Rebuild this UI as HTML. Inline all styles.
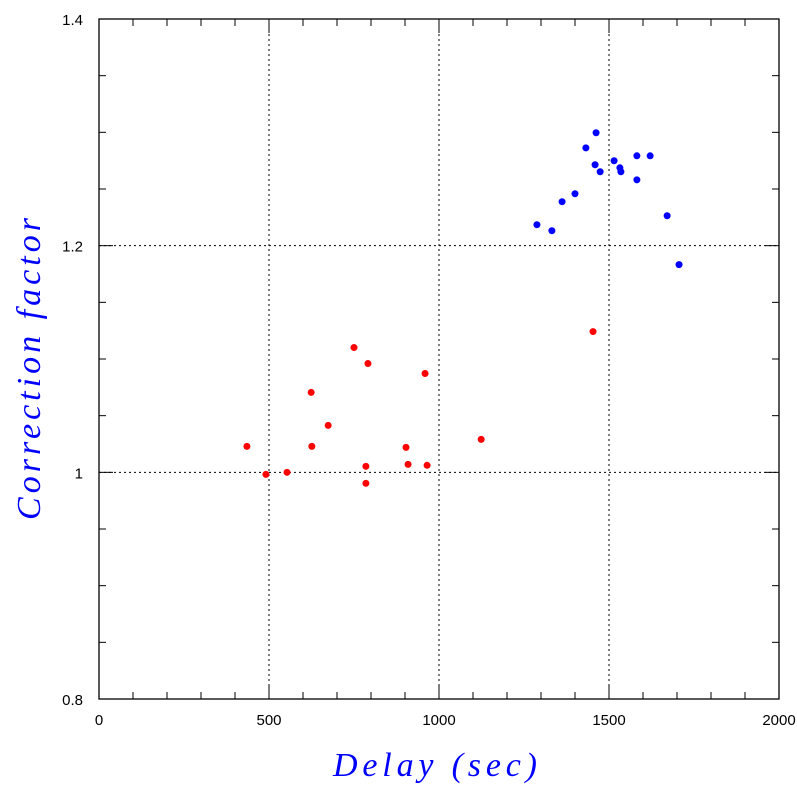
<!DOCTYPE html>
<html><head><meta charset="utf-8"><style>body{margin:0;background:#fff}svg{display:block}</style></head>
<body>
<svg id="chart" width="797" height="797" xmlns="http://www.w3.org/2000/svg"></svg>
<script>
const blueX=[1288,1332,1362,1400,1432,1459,1462,1474,1515,1532,1535,1582,1582,1621,1671,1706];
const blueY=[1.2185,1.2132,1.2388,1.2458,1.2863,1.2714,1.2996,1.2652,1.2749,1.2687,1.2652,1.2793,1.2581,1.2793,1.2264,1.1833];
const redX=[435,491,553,624,626,674,750,785,785,791,903,909,959,965,1124,1453];
const redY=[1.0229,0.9982,1.0,1.0705,1.0229,1.0414,1.1101,1.0053,0.9903,1.0960,1.0220,1.0070,1.0872,1.0062,1.0291,1.1242];
const xTicks=[0,500,1000,1500,2000];
const yTicks=[0.8,1,1.2,1.4];
const yTickLabels=["0.8","1","1.2","1.4"];
const L=99,R=779,T=19,B=699;
const sx=v=>L+(v/2000)*(R-L);
const sy=v=>B-((v-0.8)/0.6)*(B-T);
const svg=document.getElementById('chart');
const NS='http://www.w3.org/2000/svg';
function mk(tag,attrs,name){const e=document.createElementNS(NS,tag);for(const k in attrs)e.setAttribute(k,attrs[k]);


svg.appendChild(e);return e;}
[500,1000,1500].forEach(v=>mk('line',{x1:sx(v),x2:sx(v),y1:T,y2:B,stroke:'#000','stroke-dasharray':'2,3','stroke-width':1},'x-gridline'));
[1.0,1.2].forEach(v=>mk('line',{x1:L,x2:R,y1:sy(v),y2:sy(v),stroke:'#000','stroke-dasharray':'2,3','stroke-width':1},'y-gridline'));
mk('rect',{x:L,y:T,width:R-L,height:B-T,fill:'none',stroke:'#000','stroke-width':1.3},'plot-frame');
for(let v=0;v<=2000;v+=100){const len=v%500===0?14:7;
mk('line',{x1:sx(v),x2:sx(v),y1:B,y2:B-len,stroke:'#000'},'x-tick');
mk('line',{x1:sx(v),x2:sx(v),y1:T,y2:T+len,stroke:'#000'},'x-tick-top');}
for(let i=0;i<=12;i++){const v=0.8+i*0.05;const len=i%4===0?14:7;
mk('line',{x1:L,x2:L+len,y1:sy(v),y2:sy(v),stroke:'#000'},'y-tick');
mk('line',{x1:R,x2:R-len,y1:sy(v),y2:sy(v),stroke:'#000'},'y-tick-right');}
xTicks.forEach(v=>{const t=mk('text',{x:sx(v),y:725,'text-anchor':'middle','font-family':'Liberation Sans, sans-serif','font-size':15},'x-tick-label');t.textContent=v;});
yTicks.forEach((v,i)=>{const t=mk('text',{x:L-16,y:sy(v)+6,'text-anchor':'end','font-family':'Liberation Sans, sans-serif','font-size':15},'y-tick-label');t.textContent=yTickLabels[i];});
blueX.forEach((x,i)=>mk('circle',{cx:sx(x),cy:sy(blueY[i]),r:3.5,fill:'#0000ff'},'blue-point'));
redX.forEach((x,i)=>mk('circle',{cx:sx(x),cy:sy(redY[i]),r:3.5,fill:'#ff0000'},'red-point'));
const xt=mk('text',{x:435,y:776,'text-anchor':'middle','font-family':'Liberation Serif, serif','font-style':'italic','font-size':34,fill:'#0000ff',textLength:204,lengthAdjust:'spacing'},'x-axis-title');xt.textContent='Delay (sec)';
const yt=mk('text',{x:40,y:369,'text-anchor':'middle','font-family':'Liberation Serif, serif','font-style':'italic','font-size':34,fill:'#0000ff',textLength:302,lengthAdjust:'spacing',transform:'rotate(-90 40 369)'},'y-axis-title');yt.textContent='Correction factor';
</script>
</body></html>
